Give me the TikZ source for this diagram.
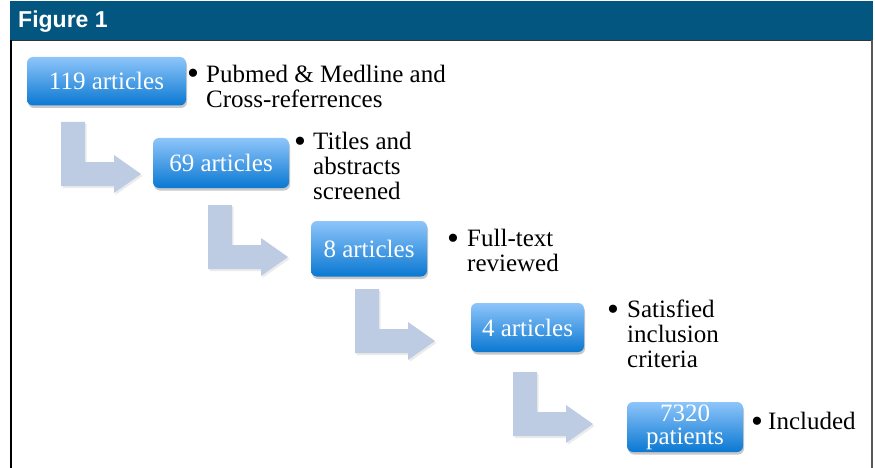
\documentclass[tikz,border=0pt]{standalone}
\usepackage{fontspec}
\setmainfont{Liberation Serif}
\newfontfamily\headfont{Liberation Sans}
\usetikzlibrary{shadows}
\definecolor{headblue}{HTML}{03567F}
\definecolor{arrowfill}{HTML}{BDCCE3}
\definecolor{boxtop}{HTML}{8EC5FA}
\definecolor{boxbot}{HTML}{0A78D2}
\tikzset{
  stepbox/.style={rounded corners=6pt, top color=boxtop, bottom color=boxbot,
    draw=none, text=white, inner sep=0pt, align=center,
    font=\fontsize{25}{23}\selectfont,
    drop shadow={shadow xshift=1pt, shadow yshift=-2.5pt, opacity=0.3, fill=black!70}},
  bulletdot/.style={anchor=base, inner sep=0pt, font=\fontsize{34}{34}\selectfont},
  bullettext/.style={anchor=north west, inner sep=0pt, align=left,
    font=\fontsize{25}{25}\selectfont},
  bentarrow/.pic={
    \fill[black, opacity=0.08] (1.5,2) -- (25.5,2) -- (25.5,42) -- (54.5,42) -- (54.5,35) -- (81.5,54) -- (54.5,73) -- (54.5,66) -- (1.5,66) -- cycle;
    \fill[arrowfill] (0,0) -- (24,0) -- (24,40) -- (53,40) -- (53,33) -- (80,52) -- (53,71) -- (53,64) -- (0,64) -- cycle;
  }
}
\begin{document}
\begin{tikzpicture}[x=1pt,y=-1pt]
\useasboundingbox (0,0) rectangle (875,468);
\fill[white] (0,0) rectangle (875,468);
% header and frame
\fill[headblue] (10,1) rectangle (873,40);
\draw[line width=0.8pt, black!80] (10,40) -- (872,40);
\draw[line width=2pt, black] (10.5,40) -- (10.5,468);
\draw[line width=2pt, black!65] (872,40) -- (872,468);
\node[anchor=base west, inner sep=0pt, text=white,
  font=\headfont\bfseries\fontsize{23}{26}\selectfont] (title) at (18,28) {Figure 1};

% bent arrows
\coordinate (a1) at (61,122);
\coordinate (a2) at (208,205);
\coordinate (a3) at (355,289);
\coordinate (a4) at (513,372);
\pic at (a1) {bentarrow};
\pic at (a2) {bentarrow};
\pic at (a3) {bentarrow};
\pic at (a4) {bentarrow};

% boxes
\node[stepbox, minimum width=159pt, minimum height=48.5pt] (b1) at (106.5,81.25) {119 articles};
\node[stepbox, minimum width=136pt, minimum height=50pt] (b2) at (221,163) {69 articles};
\node[stepbox, minimum width=116pt, minimum height=55.5pt] (b3) at (369,248.75) {8 articles};
\node[stepbox, minimum width=113pt, minimum height=49pt] (b4) at (527.5,327.5) {4 articles};
\node[stepbox, minimum width=116pt, minimum height=50pt] (b5) at (685,427) {7320\\patients};

% bullets
\node[bulletdot] (d1) at (193,85) {\textbullet};
\node[bulletdot] (d2) at (300,152) {\textbullet};
\node[bulletdot] (d3) at (453,249) {\textbullet};
\node[bulletdot] (d4) at (613,320) {\textbullet};
\node[bulletdot] (d5) at (757,432) {\textbullet};

\node[bullettext] (t1) at (206,64) {\rule{0pt}{18pt}Pubmed \& Medline and\\Cross-referrences};
\node[bullettext] (t2) at (313,131) {\rule{0pt}{18pt}Titles and\\abstracts\\screened};
\node[bullettext] (t3) at (467,228) {\rule{0pt}{18pt}Full-text\\reviewed};
\node[bullettext] (t4) at (627,299) {\rule{0pt}{18pt}Satisfied\\inclusion\\criteria};
\node[bullettext] (t5) at (768,411) {\rule{0pt}{18pt}Included};
\end{tikzpicture}
\end{document}
